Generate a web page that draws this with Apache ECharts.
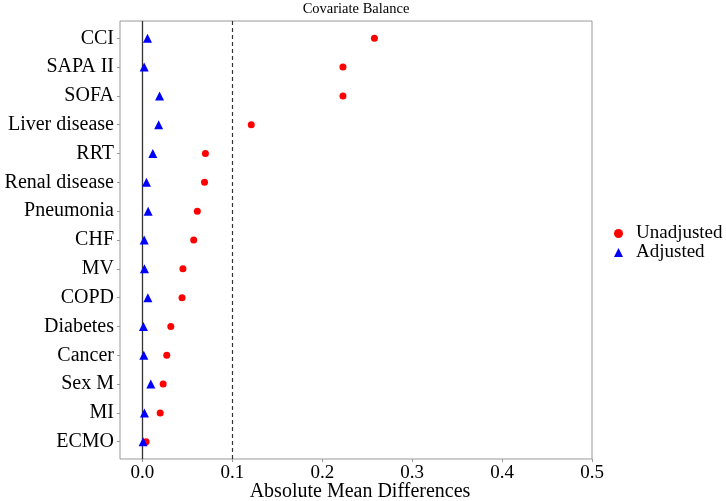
<!DOCTYPE html>
<html>
<head>
<meta charset="utf-8">
<script src="https://cdn.jsdelivr.net/npm/echarts@6/dist/echarts.min.js"></script>
<style>html,body{margin:0;padding:0;background:#fff;}#c{width:726px;height:501px;}</style>
</head>
<body>
<div id="c"></div>
<script>
const categories = ["CCI","SAPA II","SOFA","Liver disease","RRT","Renal disease","Pneumonia","CHF","MV","COPD","Diabetes","Cancer","Sex M","MI","ECMO"];
const unadjusted = [0.258,0.223,0.223,0.121,0.070,0.069,0.061,0.057,0.045,0.044,0.0315,0.027,0.023,0.0197,0.004];
const adjusted = [0.0056,0.0019,0.019,0.018,0.0115,0.0044,0.0063,0.0019,0.0022,0.006,0.0011,0.0015,0.0093,0.0022,0.0007];
const xTicks = [0,0.1,0.2,0.3,0.4,0.5];
const refLines = [0, 0.1];

const serif = "Liberation Serif, Times New Roman, serif";
const rowIdx = categories.map((c, i) => i);
const chart = echarts.init(document.getElementById('c'));
chart.setOption({
  animation: false,
  backgroundColor: '#fff',
  title: {text: 'Covariate Balance', left: 351, textAlign: 'center', top: -3,
    textStyle: {fontFamily: serif, fontSize: 14.5, fontWeight: 'normal', color: '#000'}},
  grid: {left: 120, right: 134, top: 21, bottom: 42, outerBoundsMode: 'none', containLabel: false,
    show: true, borderColor: '#999', borderWidth: 1, backgroundColor: '#fff'},
  legend: {orient: 'vertical', left: 609, top: 219, itemWidth: 9, itemHeight: 9, itemGap: 0,
    textStyle: {fontFamily: serif, fontSize: 19, color: '#000', padding: [0, 0, 0, 8], lineHeight: 18},
    data: [{name: 'Unadjusted', icon: 'circle'}, {name: 'Adjusted', icon: 'triangle'}]},
  xAxis: {type: 'value', min: -0.025, max: 0.5,
    name: 'Absolute Mean Differences', nameLocation: 'middle', nameGap: 23, nameMoveOverlap: false,
    nameTextStyle: {fontFamily: serif, fontSize: 20, color: '#000', padding: [0, 0, 0, 8]},
    axisLine: {show: false, onZero: false}, splitLine: {show: false},
    axisTick: {show: true, length: 3, lineStyle: {color: '#999'}, customValues: xTicks},
    axisLabel: {customValues: xTicks, fontFamily: serif, fontSize: 19, color: '#000', margin: 5,
      formatter: v => v.toFixed(1)}},
  yAxis: {type: 'value', min: -0.6, max: 14.6, inverse: true,
    axisLine: {show: false, onZero: false}, splitLine: {show: false},
    axisTick: {show: true, length: 3, lineStyle: {color: '#999'}, customValues: rowIdx},
    axisLabel: {customValues: rowIdx, fontFamily: serif, fontSize: 20, color: '#000', margin: 6,
      formatter: v => categories[Math.round(v)]}},
  series: [
    {name: 'Unadjusted', type: 'scatter', symbol: 'circle', symbolSize: 7,
      itemStyle: {color: '#ff0000', opacity: 1},
      data: unadjusted.map((v, i) => [v, i]), z: 3,
      markLine: {silent: true, symbol: 'none', label: {show: false}, z: 2,
        data: [
          {xAxis: refLines[0], lineStyle: {color: '#333', width: 1.3, type: 'solid'}},
          {xAxis: refLines[1], lineStyle: {color: '#333', width: 1.2, type: [4, 3]}}
        ]}},
    {name: 'Adjusted', type: 'scatter', symbol: 'triangle', symbolSize: 9,
      itemStyle: {color: '#0000ff', opacity: 1},
      data: adjusted.map((v, i) => [v, i]), z: 4}
  ]
});
</script>
</body>
</html>
